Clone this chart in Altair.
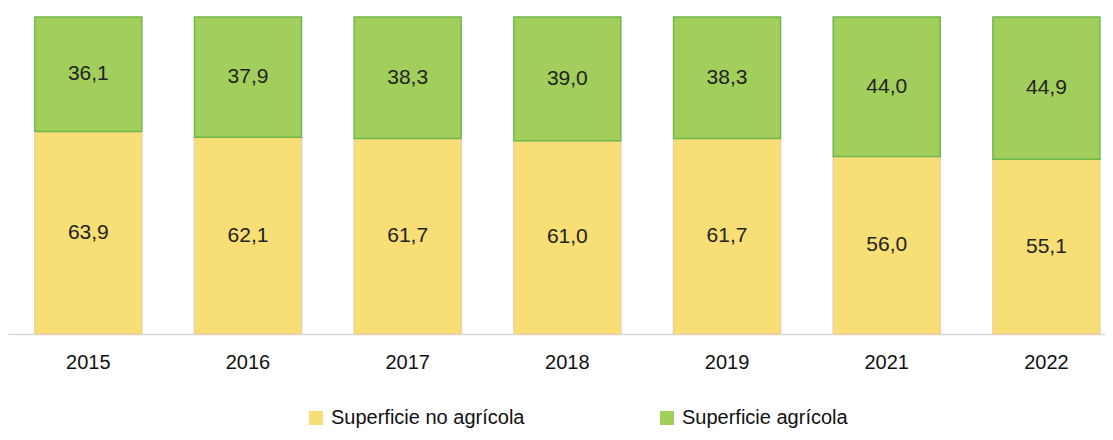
import altair as alt
import pandas as pd

anios = ["2015", "2016", "2017", "2018", "2019", "2021", "2022"]
no_agricola = [63.9, 62.1, 61.7, 61.0, 61.7, 56.0, 55.1]
agricola = [36.1, 37.9, 38.3, 39.0, 38.3, 44.0, 44.9]
series = ["Superficie no agrícola", "Superficie agrícola"]
fills = ["#F7DE75", "#A2CF5C"]
strokes = ["#F2CE9E", "#6DB84A"]

rows = []
for i, a in enumerate(anios):
    rows.append({"anio": a, "serie": series[0], "valor": no_agricola[i], "orden": 0})
    rows.append({"anio": a, "serie": series[1], "valor": agricola[i], "orden": 1})
df = pd.DataFrame(rows)

FONT = "Liberation Sans"

x_enc = alt.X(
    "anio:N",
    sort=anios,
    title=None,
    scale=alt.Scale(paddingInner=0.33, paddingOuter=0.10, align=0.84),
    axis=alt.Axis(
        labelAngle=0,
        ticks=False,
        domainColor="#d9d9d9",
        domainWidth=1.5,
        labelFontSize=20,
        labelFont=FONT,
        labelColor="#111111",
        labelPadding=18,
        grid=False,
    ),
)

bars = alt.Chart(df).mark_bar(strokeWidth=1.5).encode(
    x=x_enc,
    y=alt.Y("valor:Q", stack="zero", scale=alt.Scale(domain=[0, 100]), axis=None),
    color=alt.Color(
        "serie:N",
        scale=alt.Scale(domain=series, range=fills),
        sort=series,
        legend=alt.Legend(
            orient="none",
            legendX=298,
            legendY=391,
            direction="horizontal",
            title=None,
            symbolType="square",
            symbolSize=196,
            symbolStrokeWidth=0,
            labelFontSize=20,
            labelFont=FONT,
            labelColor="#111111",
            labelOffset=5,
            columnPadding=132,
            padding=0,
            labelLimit=400,
        ),
    ),
    stroke=alt.Stroke("serie:N", scale=alt.Scale(domain=series, range=strokes), legend=None),
    order=alt.Order("orden:Q", sort="ascending"),
)

labels = (
    alt.Chart(df)
    .transform_stack(
        stack="valor", groupby=["anio"], as_=["y0", "y1"], sort=[alt.SortField("orden", order="ascending")]
    )
    .transform_calculate(
        mid="(datum.y0 + datum.y1) / 2",
        etiqueta="replace(format(datum.valor, '.1f'), '.', ',')",
    )
    .mark_text(fontSize=21, font=FONT, color="#222222", baseline="middle", align="center")
    .encode(
        x=alt.X("anio:N", sort=anios),
        y=alt.Y("mid:Q", scale=alt.Scale(domain=[0, 100])),
        text="etiqueta:N",
    )
)

chart = (
    alt.layer(bars, labels)
    .properties(
        width=1097,
        height=317,
        autosize=alt.AutoSizeParams(type="none"),
        padding={"left": 0, "top": 9, "right": 0, "bottom": 100},
    )
    .configure_view(stroke=None)
)

chart.save("out.html", embed_options={"renderer": "svg", "actions": False})
